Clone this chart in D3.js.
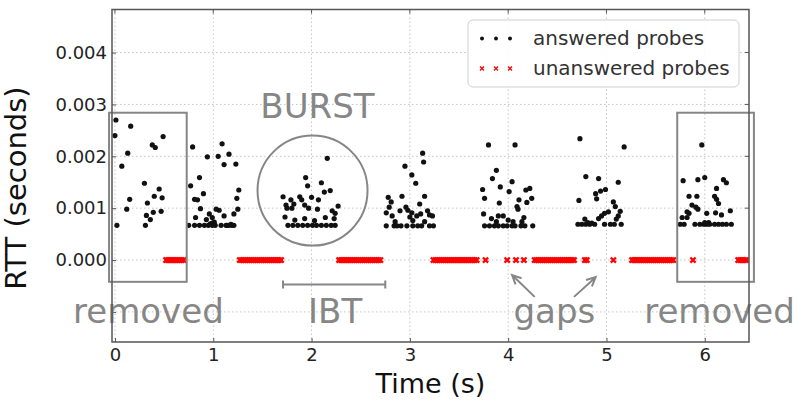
<!DOCTYPE html>
<html><head><meta charset="utf-8">
<script src="https://cdn.jsdelivr.net/npm/d3@7/dist/d3.min.js"></script>
<style>body{margin:0;background:#fff}svg{display:block}text{font-family:"DejaVu Sans",sans-serif}</style>
</head><body><svg id="c" width="804" height="411"></svg>
<script>
// ---- data (time in s, RTT in s) ----
const xTicks = [0, 1, 2, 3, 4, 5, 6];
const yTicks = [0.000, 0.001, 0.002, 0.003, 0.004];
const yGrid = [-0.001, 0.000, 0.001, 0.002, 0.003, 0.004];
const burst0 = [[0.01,2.70e-3],[0.16,2.58e-3],[0.00,2.40e-3],[0.49,2.38e-3],[0.38,2.22e-3],[0.41,2.17e-3],[0.13,2.06e-3],[0.07,1.81e-3],[0.30,1.48e-3],[0.45,1.37e-3],[0.40,1.23e-3],[0.48,1.20e-3],[0.15,1.17e-3],[0.33,1.10e-3],[0.12,0.98e-3],[0.39,0.92e-3],[0.47,0.94e-3],[0.32,0.86e-3],[0.36,0.78e-3],[0.31,0.67e-3],[0.02,0.67e-3]];
const burst1 = [[0.79,2.18e-3],[1.09,2.24e-3],[1.16,2.04e-3],[0.94,1.99e-3],[1.05,2.00e-3],[1.11,1.84e-3],[1.23,1.85e-3],[0.86,1.59e-3],[0.77,1.43e-3],[1.26,1.35e-3],[0.90,1.28e-3],[0.81,1.17e-3],[0.84,1.16e-3],[1.24,1.19e-3],[0.87,0.99e-3],[1.03,0.98e-3],[1.06,0.96e-3],[1.25,0.98e-3],[0.96,0.89e-3],[1.11,0.85e-3],[1.21,0.89e-3],[0.82,0.82e-3],[0.93,0.78e-3],[0.99,0.82e-3],[0.75,0.67e-3],[0.81,0.67e-3],[0.86,0.67e-3],[0.91,0.67e-3],[0.95,0.67e-3],[0.99,0.67e-3],[1.02,0.67e-3],[1.08,0.67e-3],[1.14,0.67e-3],[1.16,0.67e-3],[1.19,0.67e-3],[0.99,0.71e-3],[1.01,0.73e-3],[1.18,0.69e-3],[1.21,0.67e-3],[0.97,0.70e-3],[1.13,0.67e-3]];
const burst2 = [[2.16,1.96e-3],[1.94,1.59e-3],[2.10,1.49e-3],[1.96,1.43e-3],[2.19,1.34e-3],[2.13,1.31e-3],[1.71,1.22e-3],[1.88,1.22e-3],[2.00,1.21e-3],[1.79,1.16e-3],[1.90,1.16e-3],[2.07,1.16e-3],[1.74,1.06e-3],[1.82,1.08e-3],[1.93,1.06e-3],[2.27,1.04e-3],[1.75,1.00e-3],[1.80,1.00e-3],[1.97,1.00e-3],[2.06,0.98e-3],[2.21,0.95e-3],[2.24,0.90e-3],[1.73,0.83e-3],[1.93,0.80e-3],[2.14,0.82e-3],[2.23,0.80e-3],[1.83,0.77e-3],[2.03,0.76e-3],[1.76,0.67e-3],[1.81,0.67e-3],[1.86,0.67e-3],[1.91,0.67e-3],[1.96,0.67e-3],[2.01,0.67e-3],[2.05,0.67e-3],[2.10,0.67e-3],[2.15,0.67e-3],[2.20,0.67e-3],[2.24,0.67e-3]];
const burst3 = [[3.13,2.06e-3],[3.14,1.89e-3],[2.95,1.81e-3],[3.02,1.64e-3],[3.06,1.48e-3],[2.78,1.21e-3],[2.92,1.23e-3],[3.15,1.23e-3],[2.81,1.12e-3],[3.10,1.08e-3],[2.79,1.02e-3],[2.96,1.02e-3],[2.76,0.91e-3],[2.90,0.95e-3],[2.98,0.96e-3],[3.02,0.91e-3],[3.18,0.95e-3],[3.11,0.89e-3],[3.20,0.87e-3],[2.82,0.85e-3],[3.00,0.83e-3],[3.07,0.85e-3],[3.23,0.85e-3],[2.85,0.74e-3],[3.03,0.76e-3],[3.15,0.74e-3],[2.76,0.66e-3],[2.84,0.66e-3],[2.87,0.66e-3],[2.91,0.66e-3],[2.97,0.66e-3],[3.03,0.66e-3],[3.08,0.66e-3],[3.12,0.66e-3],[3.20,0.66e-3],[3.24,0.66e-3]];
const burst4 = [[3.80,2.22e-3],[4.07,2.22e-3],[3.88,1.73e-3],[3.84,1.57e-3],[4.04,1.51e-3],[3.92,1.41e-3],[3.74,1.36e-3],[4.01,1.32e-3],[4.18,1.35e-3],[4.22,1.38e-3],[3.76,1.19e-3],[4.11,1.16e-3],[4.24,1.19e-3],[3.91,1.10e-3],[4.19,1.11e-3],[4.09,1.03e-3],[4.10,0.98e-3],[3.75,0.89e-3],[4.16,0.82e-3],[3.83,0.80e-3],[3.90,0.85e-3],[3.95,0.85e-3],[3.88,0.74e-3],[4.00,0.77e-3],[4.05,0.74e-3],[4.14,0.74e-3],[3.76,0.66e-3],[3.81,0.66e-3],[3.86,0.66e-3],[3.90,0.66e-3],[3.95,0.66e-3],[3.99,0.66e-3],[4.04,0.66e-3],[4.07,0.66e-3],[4.13,0.66e-3],[4.17,0.66e-3],[4.25,0.66e-3]];
const burst5 = [[4.73,2.34e-3],[5.18,2.18e-3],[4.79,1.61e-3],[4.92,1.57e-3],[5.12,1.50e-3],[4.99,1.36e-3],[4.94,1.33e-3],[4.89,1.28e-3],[4.72,1.15e-3],[4.90,1.18e-3],[5.07,1.12e-3],[5.09,1.03e-3],[5.14,0.94e-3],[5.02,0.93e-3],[4.98,0.90e-3],[4.95,0.85e-3],[5.12,0.85e-3],[5.10,0.79e-3],[4.78,0.79e-3],[4.92,0.80e-3],[4.71,0.69e-3],[4.75,0.69e-3],[4.79,0.69e-3],[4.83,0.69e-3],[4.88,0.69e-3],[4.98,0.69e-3],[5.04,0.69e-3],[5.08,0.69e-3],[5.15,0.69e-3],[4.81,0.72e-3],[4.85,0.71e-3]];
const burst6 = [[5.97,2.22e-3],[5.78,1.53e-3],[5.93,1.55e-3],[6.00,1.59e-3],[6.19,1.55e-3],[6.22,1.49e-3],[6.12,1.38e-3],[5.84,1.23e-3],[5.92,1.23e-3],[6.10,1.23e-3],[6.12,1.17e-3],[6.14,1.09e-3],[5.87,1.06e-3],[5.91,1.02e-3],[5.93,0.98e-3],[6.26,0.95e-3],[5.82,0.93e-3],[5.84,0.90e-3],[6.02,0.90e-3],[6.11,0.91e-3],[6.17,0.87e-3],[5.77,0.82e-3],[5.82,0.82e-3],[5.75,0.69e-3],[5.79,0.69e-3],[5.90,0.69e-3],[5.95,0.69e-3],[5.99,0.69e-3],[6.02,0.69e-3],[6.05,0.69e-3],[6.10,0.69e-3],[6.14,0.69e-3],[6.18,0.69e-3],[6.22,0.69e-3],[6.27,0.69e-3],[6.00,0.72e-3],[6.04,0.72e-3]];
// times of unanswered probes (RTT plotted at 0)
const unansweredTimes = [
 0.52,0.54,0.56,0.58,0.60,0.62,0.64,0.66,0.68,0.70,
 1.27,1.29,1.31,1.33,1.35,1.37,1.39,1.41,1.43,1.45,1.47,1.49,1.51,1.53,1.55,1.57,1.59,1.61,1.63,1.65,1.67,1.69,
 2.28,2.30,2.32,2.34,2.36,2.38,2.40,2.42,2.44,2.46,2.48,2.50,2.52,2.54,2.56,2.58,2.60,2.62,2.64,2.66,2.68,2.70,
 3.24,3.26,3.28,3.30,3.32,3.34,3.36,3.38,3.40,3.42,3.44,3.46,3.48,3.50,3.52,3.54,3.56,3.58,3.60,3.62,3.64,3.66,3.68,
 3.77,3.99,4.08,4.16,
 4.27,4.29,4.31,4.33,4.35,4.37,4.39,4.41,4.43,4.45,4.47,4.49,4.51,4.53,4.55,4.57,4.59,4.61,4.63,4.65,4.67,
 4.78,4.80,5.07,
 5.26,5.28,5.30,5.32,5.34,5.36,5.38,5.40,5.42,5.44,5.46,5.48,5.50,5.52,5.54,5.56,5.58,5.60,5.62,5.64,5.66,5.68,
 5.88,
 6.34,6.36,6.38,6.40,6.42
];
const legendLabels = ["answered probes", "unanswered probes"];

// ---- layout ----
const svg = d3.select("#c");
const L = 112, R = 749, T = 9.5, B = 342;
const x = d3.scaleLinear().domain([-0.03, 6.45]).range([L, R]);
const y = d3.scaleLinear().domain([-0.00158, 0.00483]).range([B, T]);
const grey = "#868686";

svg.append("rect").attr("width", 804).attr("height", 411).attr("fill", "#fff");

// grid
const g = svg.append("g");
g.selectAll(".gx").data(xTicks).join("line")
  .attr("x1", d => x(d)).attr("x2", d => x(d)).attr("y1", T).attr("y2", B)
  .attr("stroke", "#c4c4c4").attr("stroke-width", 1).attr("stroke-dasharray", "1.5,2.5");
g.selectAll(".gy").data(yGrid).join("line")
  .attr("y1", d => y(d)).attr("y2", d => y(d)).attr("x1", L).attr("x2", R)
  .attr("stroke", "#c4c4c4").attr("stroke-width", 1).attr("stroke-dasharray", "1.5,2.5");

// axes
const ax = svg.append("g").attr("transform", `translate(0,${B})`)
  .call(d3.axisBottom(x).tickValues(xTicks).tickFormat(d3.format("d")).tickSize(-4).tickPadding(6));
const ay = svg.append("g").attr("transform", `translate(${L},0)`)
  .call(d3.axisLeft(y).tickValues(yGrid).tickFormat(d => d < 0 ? "" : d3.format(".3f")(d)).tickSize(-4).tickPadding(5));
[ax, ay].forEach(a => {
  a.select(".domain").remove();
  a.selectAll(".tick line").attr("stroke", "#555");
  a.selectAll("text").attr("font-size", 18).attr("fill", "#222").style("font-family", "DejaVu Sans");
});
// top & right ticks
svg.append("g").selectAll("line").data(xTicks).join("line")
  .attr("x1", d => x(d)).attr("x2", d => x(d)).attr("y1", T).attr("y2", T + 4).attr("stroke", "#555");
svg.append("g").selectAll("line").data(yGrid).join("line")
  .attr("x1", R - 4).attr("x2", R).attr("y1", d => y(d)).attr("y2", d => y(d)).attr("stroke", "#555");

// unanswered probes (red x)
const xs = 2.6;
svg.append("g").selectAll("path").data(unansweredTimes).join("path")
  .attr("d", d => `M${x(d)-xs},${y(0)-xs}L${x(d)+xs},${y(0)+xs}M${x(d)-xs},${y(0)+xs}L${x(d)+xs},${y(0)-xs}`)
  .attr("stroke", "#f00").attr("stroke-width", 2.3).attr("fill", "none");

// answered probes
const answered = [].concat(burst0, burst1, burst2, burst3, burst4, burst5, burst6);
svg.append("g").selectAll("circle").data(answered).join("circle")
  .attr("cx", d => x(d[0])).attr("cy", d => y(d[1])).attr("r", 2.6).attr("fill", "#111");

// annotations
const ann = svg.append("g");
const boxY0 = 2.84e-3, boxY1 = -0.42e-3;
[[-0.06, 0.73], [5.72, 6.50]].forEach(([a, b]) => {
  ann.append("rect").attr("x", x(a)).attr("y", y(boxY0)).attr("width", x(b) - x(a)).attr("height", y(boxY1) - y(boxY0))
    .attr("fill", "none").attr("stroke", grey).attr("stroke-width", 2);
});
ann.append("circle").attr("cx", x(2.01)).attr("cy", y(1.34e-3)).attr("r", 55)
  .attr("fill", "none").attr("stroke", grey).attr("stroke-width", 2);
// IBT bracket
const ibtY = y(-0.47e-3);
ann.append("path").attr("d", `M${x(1.71)},${ibtY}H${x(2.75)}M${x(1.71)},${ibtY-4}V${ibtY+4}M${x(2.75)},${ibtY-4}V${ibtY+4}`)
  .attr("stroke", grey).attr("stroke-width", 2).attr("fill", "none");
// arrows
function arrow(t0, r0, t1, r1) {
  const x0 = x(t0), y0 = y(r0), x1 = x(t1), y1 = y(r1);
  const ang = Math.atan2(y1 - y0, x1 - x0), h = 10, s = 0.45;
  const p1 = [x1 - h * Math.cos(ang - s), y1 - h * Math.sin(ang - s)];
  const p2 = [x1 - h * Math.cos(ang + s), y1 - h * Math.sin(ang + s)];
  ann.append("path").attr("d", `M${x0},${y0}L${x1},${y1}M${p1}L${x1},${y1}L${p2}`)
    .attr("stroke", grey).attr("stroke-width", 2).attr("fill", "none");
}
arrow(4.27, -0.71e-3, 4.04, -0.29e-3);
arrow(4.67, -0.71e-3, 4.89, -0.33e-3);
const labels = [["BURST", 2.06, 2.73e-3], ["removed", 0.34, -1.21e-3], ["IBT", 2.24, -1.21e-3], ["gaps", 4.47, -1.21e-3], ["removed", 6.15, -1.21e-3]];
ann.selectAll("text").data(labels).join("text")
  .attr("x", d => x(d[1])).attr("y", d => y(d[2])).attr("text-anchor", "middle")
  .attr("font-size", 34).attr("fill", grey).text(d => d[0]);

// frame
svg.append("rect").attr("x", L).attr("y", T).attr("width", R - L).attr("height", B - T)
  .attr("fill", "none").attr("stroke", "#555").attr("stroke-width", 1.5);

// legend
const lg = svg.append("g");
lg.append("rect").attr("x", 468).attr("y", 20).attr("width", 271).attr("height", 67).attr("rx", 5)
  .attr("fill", "#fff").attr("fill-opacity", 0.9).attr("stroke", "#cfcfcf").attr("stroke-width", 1);
const lx = [482, 496, 510];
lg.selectAll(".ld").data(lx).join("circle").attr("cx", d => d).attr("cy", 38.5).attr("r", 2).attr("fill", "#111");
lg.selectAll(".lx").data(lx).join("path")
  .attr("d", d => `M${d-2},${66.5}L${d+2},${70.5}M${d-2},${70.5}L${d+2},${66.5}`)
  .attr("stroke", "#f00").attr("stroke-width", 1.3);
lg.selectAll("text").data(legendLabels).join("text")
  .attr("x", 533).attr("y", (d, i) => 45 + i * 30).attr("font-size", 20).attr("fill", "#333").text(d => d);

// axis labels
svg.append("text").attr("x", (L + R) / 2).attr("y", 393).attr("text-anchor", "middle")
  .attr("font-size", 27).attr("fill", "#111").text("Time (s)");
svg.append("text").attr("transform", "translate(26,188) rotate(-90)").attr("text-anchor", "middle")
  .attr("font-size", 29).attr("fill", "#111").text("RTT (seconds)");
</script></body></html>
